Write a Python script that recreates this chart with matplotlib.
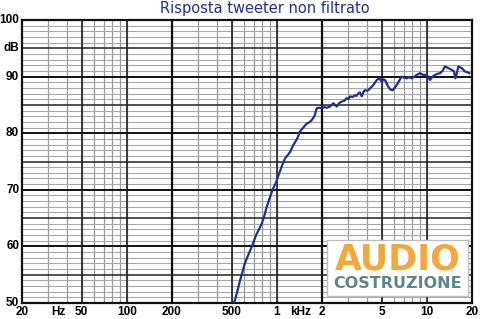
import matplotlib
matplotlib.use("Agg")
import matplotlib.pyplot as plt
from matplotlib.patches import Rectangle

# ---- data ----
freq_hz = [505, 526, 548, 570, 590, 612, 640, 682, 727, 760, 795, 825, 857, 895, 936, 985,
           1026, 1080, 1137, 1180, 1227, 1280, 1330, 1380, 1426, 1490, 1581, 1640, 1708, 1780,
           1844, 1920, 1990, 2080, 2160, 2260, 2379, 2440, 2507, 2600, 2706, 2810, 2922,
           3000, 3074, 3200, 3320, 3400, 3492, 3580, 3680, 3780, 3872, 4020, 4178, 4396,
           4632, 4820, 5000, 5130, 5260, 5534, 5720, 5920, 6100, 6296, 6550, 6794, 7050,
           7340, 7620, 7920, 8250, 8554, 8998, 9468, 9980, 10496, 10900, 11334, 11800,
           12240, 12700, 13214, 13900, 14656, 15172, 15500, 15814, 16200, 17068, 17956,
           18500, 19188]
level_db = [49.5, 50.5, 52.3, 54.1, 55.5, 57.0, 58.3, 60.0, 62.0, 63.0, 64.1, 65.4, 67.0,
            68.5, 70.0, 71.2, 72.6, 74.2, 75.6, 76.1, 76.7, 77.8, 78.5, 79.3, 80.3, 80.9,
            81.7, 81.9, 82.3, 83.0, 84.4, 84.5, 84.4, 84.6, 84.5, 84.7, 85.3, 85.0, 84.7,
            85.3, 85.6, 85.7, 86.2, 86.0, 86.5, 86.4, 86.7, 86.6, 87.0, 87.2, 86.5, 87.3,
            87.6, 87.5, 87.9, 88.5, 89.4, 89.7, 89.1, 89.5, 89.4, 88.2, 87.7, 87.6, 88.0,
            88.5, 89.3, 90.0, 89.8, 89.7, 89.9, 89.7, 90.0, 90.3, 90.6, 90.3, 90.3, 89.4,
            90.0, 90.3, 90.5, 90.6, 91.0, 91.8, 91.5, 91.2, 90.9, 89.7, 90.5, 91.8, 91.5,
            90.9, 90.8, 90.6]

title = "Risposta tweeter non filtrato"
x_tick_vals = [20, 50, 100, 200, 500, 1000, 2000, 5000, 10000, 20000]
x_tick_labels = ["20", "50", "100", "200", "500", "1", "2", "5", "10", "20"]
y_tick_vals = [50, 60, 70, 80, 90, 100]

# ---- figure ----
fig = plt.figure(figsize=(4.8, 3.19), dpi=100)
ax = fig.add_axes([22 / 480, 16 / 319, 450 / 480, 283 / 319])
ax.set_xscale("log")
ax.set_xlim(20, 20000)
ax.set_ylim(50, 100)

# grid
minor_x = [m * 10 ** e for e in range(1, 5) for m in range(1, 10)]
for fx in minor_x:
    if 20 < fx < 20000:
        ax.axvline(fx, color="#9a9a9a", lw=0.9, zorder=1)
for fx in [50, 100, 500, 1000, 5000, 10000]:
    ax.axvline(fx, color="#222222", lw=1.2, zorder=2)
for fx in [200, 2000]:
    ax.axvline(fx, color="#111111", lw=1.6, zorder=2)
for d in range(51, 100):
    if d % 10 == 0:
        ax.axhline(d, color="#111111", lw=1.4, zorder=2)
    elif d % 5 == 0:
        ax.axhline(d, color="#222222", lw=1.1, zorder=2)
    else:
        ax.axhline(d, color="#a8a8a8", lw=0.8, zorder=1)

for sp in ax.spines.values():
    sp.set_linewidth(1.6)
    sp.set_color("#111111")

ax.plot(freq_hz, level_db, color="#1f2f96", lw=1.6, zorder=4, clip_on=True)

# ticks
ax.set_xticks(x_tick_vals)
ax.set_xticklabels(x_tick_labels)
ax.xaxis.set_minor_locator(matplotlib.ticker.NullLocator())
ax.set_yticks(y_tick_vals)
ax.tick_params(length=0, labelsize=8.5, pad=2)
for lab in ax.get_xticklabels() + ax.get_yticklabels():
    lab.set_fontweight("bold")
    lab.set_family("Liberation Sans")
for lab in ax.get_yticklabels():
    lab.set_verticalalignment("center")

# unit labels
ax.text(-0.005, 95, "dB", transform=ax.get_yaxis_transform(), ha="right", va="center",
        fontsize=8.5, fontweight="bold", family="Liberation Sans")
ax.text(35, -0.012, "Hz", transform=ax.get_xaxis_transform(), ha="center", va="top",
        fontsize=8.5, fontweight="bold", family="Liberation Sans")
ax.text(1450, -0.012, "kHz", transform=ax.get_xaxis_transform(), ha="center", va="top",
        fontsize=8.5, fontweight="bold", family="Liberation Sans")

# title
fig.text(265 / 480, 1 - 9 / 319, title, ha="center", va="center", color="#1f2f96",
         fontsize=10.5, family="DejaVu Sans")

# logo box
ax.add_patch(Rectangle((0.678, 0.025), 0.313, 0.198, transform=ax.transAxes,
                       facecolor="white", edgecolor="#bdbdbd", lw=1.0, zorder=6))
ax.text(0.835, 0.152, "AUDIO", transform=ax.transAxes, ha="center", va="center",
        color="#f5a73a", fontsize=25, fontweight="bold", family="DejaVu Sans", zorder=7)
ax.text(0.835, 0.068, "COSTRUZIONE", transform=ax.transAxes, ha="center", va="center",
        color="#5d8784", fontsize=11.5, fontweight="bold", family="DejaVu Sans", zorder=7)

fig.savefig("out.png", dpi=100)
